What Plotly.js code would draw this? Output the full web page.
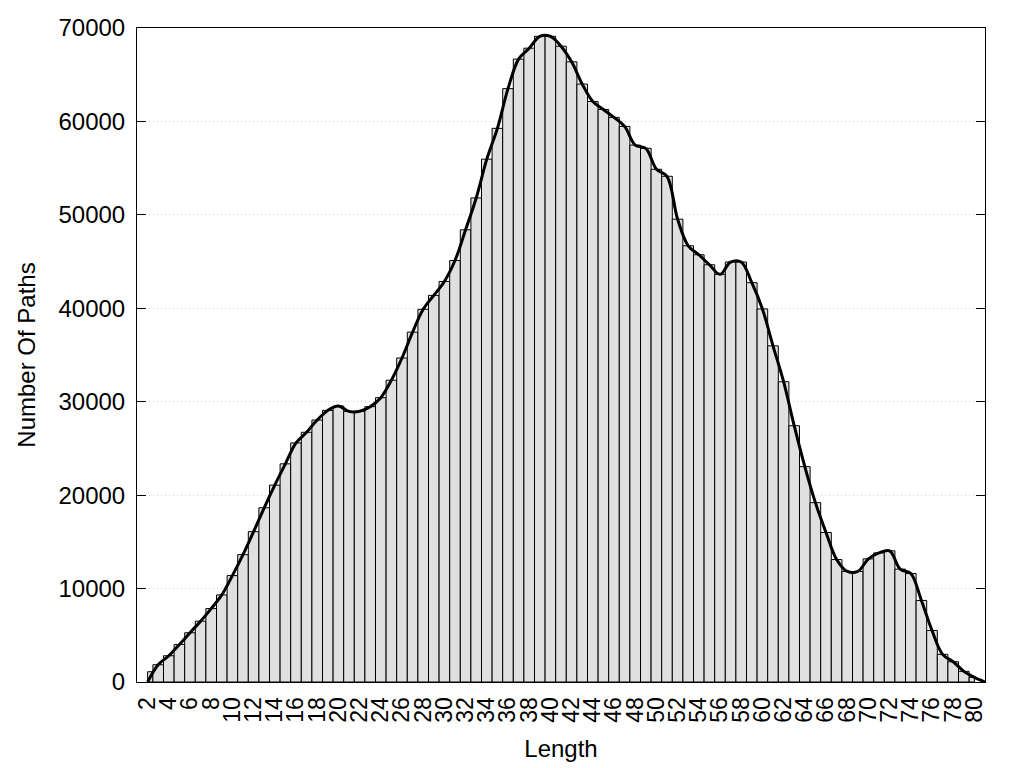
<!DOCTYPE html>
<html>
<head>
<meta charset="utf-8">
<script src="https://cdn.plot.ly/plotly-3.0.1.min.js"></script>
<style>
  html, body { margin: 0; padding: 0; background: #ffffff; }
  #chart { width: 1024px; height: 768px; }
</style>
</head>
<body>
<div id="chart"></div>
<script>
// Path length categories
const lengths = [2, 3, 4, 5, 6, 7, 8, 9, 10,
  11, 12, 13, 14, 15, 16, 17, 18, 19, 20,
  21, 22, 23, 24, 25, 26, 27, 28, 29, 30,
  31, 32, 33, 34, 35, 36, 37, 38, 39, 40,
  41, 42, 43, 44, 45, 46, 47, 48, 49, 50,
  51, 52, 53, 54, 55, 56, 57, 58, 59, 60,
  61, 62, 63, 64, 65, 66, 67, 68, 69, 70,
  71, 72, 73, 74, 75, 76, 77, 78, 79, 80];

// Number of paths per length
const counts = [1100, 1850, 2810, 4020, 5270, 6510, 7860, 9320, 11390,
  13630, 16090, 18650, 21070, 23350, 25590, 26730, 28040, 29070, 29540,
  28970, 28970, 29470, 30430, 32300, 34680, 37450, 39890, 41380, 42870,
  45110, 48400, 51810, 55960, 59260, 63510, 66670, 67840, 69110, 69110,
  68050, 66380, 64000, 62130, 61280, 60430, 59470, 57470, 57120, 54880,
  54130, 49540, 46690, 45730, 44660, 43630, 44950, 44950, 42740, 39930,
  35980, 32140, 27430, 23050, 19200, 16000, 13110, 11830, 11830, 13180,
  13820, 14040, 12080, 11610, 8730, 5520, 2960, 2170, 1140, 500];

// Axis settings
const xRange = [1, 81];
const yRange = [0, 70000];
const yTicks = [0, 10000, 20000, 30000, 40000, 50000, 60000, 70000];
const xTicks = lengths.filter(v => v % 2 === 0);

// End boxes are half-width (as in the reference), inner boxes are unit-width
const n = lengths.length;
const barWidths = lengths.map((_, i) => (i === 0 || i === n - 1) ? 0.5 : 1);
const barOffsets = lengths.map((_, i) => i === 0 ? 0 : -0.5);

// Smoothed curve through the box tops, anchored to zero at both ends
const curveX = lengths.slice(0, n).concat([xRange[1]]);
const curveY = [0].concat(counts.slice(1)).concat([0]);

const font = "Liberation Sans, Arial, sans-serif";

const traces = [
  {
    type: "bar",
    x: lengths,
    y: counts,
    width: barWidths,
    offset: barOffsets,
    marker: { color: "#e0e0e0", line: { color: "#000000", width: 1 } },
    hoverinfo: "x+y",
    showlegend: false
  },
  {
    type: "scatter",
    mode: "lines",
    x: curveX,
    y: curveY,
    line: { color: "#000000", width: 3, shape: "spline", smoothing: 1 },
    hoverinfo: "skip",
    showlegend: false
  }
];

const layout = {
  width: 1024,
  height: 768,
  margin: { l: 137, r: 39, t: 28, b: 86, pad: 0 },
  paper_bgcolor: "#ffffff",
  plot_bgcolor: "#ffffff",
  font: { family: font, size: 23, color: "#000000" },
  bargap: 0,
  xaxis: {
    range: xRange,
    tickmode: "array",
    tickvals: xTicks,
    ticktext: xTicks.map(String),
    tickangle: -90,
    ticks: "",
    showgrid: false,
    zeroline: false,
    showline: true,
    linecolor: "#000000",
    linewidth: 1,
    mirror: true,
    ticklabelstandoff: 5,
    tickfont: { family: font, size: 23, color: "#000000" },
    title: { text: "Length", font: { family: font, size: 24, color: "#000000" }, standoff: 18 }
  },
  yaxis: {
    range: yRange,
    tickmode: "array",
    tickvals: yTicks,
    ticktext: yTicks.map(String),
    ticks: "inside",
    ticklen: 9,
    tickcolor: "#000000",
    showgrid: true,
    gridcolor: "#d0d0d0",
    griddash: "1px,3px",
    gridwidth: 1,
    zeroline: false,
    showline: true,
    linecolor: "#000000",
    linewidth: 1,
    mirror: "ticks",
    ticklabelstandoff: 6,
    tickfont: { family: font, size: 24, color: "#000000" },
    title: { text: "Number Of Paths", font: { family: font, size: 24, color: "#000000" }, standoff: 16 }
  }
};

Plotly.newPlot("chart", traces, layout, { staticPlot: true, displayModeBar: false });
</script>
</body>
</html>
